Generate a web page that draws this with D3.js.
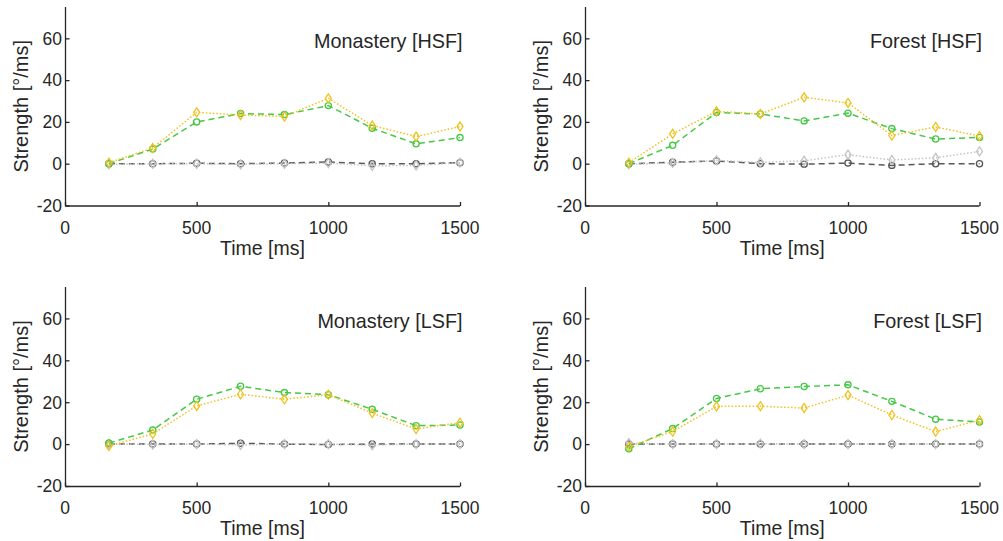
<!DOCTYPE html>
<html><head><meta charset="utf-8">
<script src="https://cdn.jsdelivr.net/npm/d3@7"></script>
<style>
body{margin:0;background:#fff;}
text{font-family:"Liberation Sans",Arial,Helvetica,sans-serif;fill:#262626;}
</style></head>
<body>
<svg id="c" width="1003" height="541"></svg>
<script>
const times = [166.7, 333.3, 500, 666.7, 833.3, 1000, 1166.7, 1333.3, 1500];
const xTicks = [0, 500, 1000, 1500];
const yTicks = [-20, 0, 20, 40, 60];
const titles = ["Monastery [HSF]", "Forest [HSF]", "Monastery [LSF]", "Forest [LSF]"];

const monHSF_green  = [0, 7, 20, 24, 23.5, 27.8, 17, 9.5, 12.5];
const monHSF_yellow = [0.5, 7.5, 24.6, 23.3, 22.6, 31.3, 18.3, 13, 17.8];
const monHSF_dark   = [0, 0, 0.2, 0, 0.3, 0.8, 0, 0, 0.5];
const monHSF_light  = [-0.3, 0, 0, -0.3, 0, 0.3, -1, -0.8, 0.5];

const forHSF_green  = [0, 8.8, 24.5, 23.8, 20.5, 24.2, 16.8, 11.8, 12.6];
const forHSF_yellow = [0.5, 14.3, 25.1, 23.8, 31.8, 29.1, 13.5, 17.6, 13.2];
const forHSF_dark   = [0, 0.7, 1.3, 0, -0.2, 0.3, -0.8, 0, 0];
const forHSF_light  = [-0.3, 0.4, 1.6, 0.6, 1.4, 4.3, 1.8, 2.8, 5.9];

const monLSF_green  = [0.5, 6.7, 21.4, 27.6, 24.6, 23.6, 16.6, 8.8, 9.1];
const monLSF_yellow = [-0.9, 4.9, 18.2, 23.8, 21.4, 23.6, 14.8, 7.2, 10.2];
const monLSF_dark   = [0, 0, 0, 0.4, 0, -0.2, 0, 0, 0];
const monLSF_light  = [0, -0.2, 0, -0.4, 0, 0, -0.5, 0, 0];

const forLSF_green  = [-2.2, 7.4, 21.8, 26.4, 27.5, 28.3, 20.4, 11.9, 10.6];
const forLSF_yellow = [-1.2, 6, 18, 18.1, 17.2, 23.4, 13.9, 6, 11.4];
const forLSF_dark   = [0, 0, 0, 0, 0, 0, 0, 0, 0];
const forLSF_light  = [0.5, 0, 0, 0.2, 0, 0, 0, 0, 0];

const panelData = [
  [monHSF_dark, monHSF_light, monHSF_green, monHSF_yellow],
  [forHSF_dark, forHSF_light, forHSF_green, forHSF_yellow],
  [monLSF_dark, monLSF_light, monLSF_green, monLSF_yellow],
  [forLSF_dark, forLSF_light, forLSF_green, forLSF_yellow]
];
const styles = [
  {color:"#585858", dash:"6,4", marker:"circle"},
  {color:"#c4c4c4", dash:"1.5,2", marker:"diamond"},
  {color:"#46c846", dash:"6,4", marker:"circle"},
  {color:"#f0c21e", dash:"1.5,2", marker:"diamond"}
];
const layout = [
  {x0:65, x1:460, y0:7, y1:205.5},
  {x0:585, x1:979.5, y0:7, y1:205.5},
  {x0:65, x1:460, y0:287, y1:486},
  {x0:585, x1:979.5, y0:287, y1:486}
];

const svg = d3.select("#c");
const axisColor = "#262626";

layout.forEach((L, pi) => {
  const x = d3.scaleLinear().domain([0, 1500]).range([L.x0, L.x1]);
  const y = d3.scaleLinear().domain([-20, 75]).range([L.y1, L.y0]);
  const g = svg.append("g");

  const ya = g.append("g").attr("transform", `translate(${L.x0},0)`)
    .call(d3.axisRight(y).tickValues(yTicks).tickSize(4).tickFormat(""));
  ya.select(".domain").attr("d", `M0.5,${L.y1}V${L.y0}`);
  ya.selectAll("line").attr("x1", 0.5).attr("x2", 4.5);
  ya.selectAll("path,line").attr("stroke", axisColor).attr("stroke-width", 1.3);
  yTicks.forEach(t => {
    g.append("text").attr("x", L.x0 - 3).attr("y", y(t) + 6.3)
      .attr("text-anchor", "end").attr("font-size", 17.5).text(t);
  });

  const xa = g.append("g").attr("transform", `translate(0,${L.y1})`)
    .call(d3.axisTop(x).tickValues(xTicks).tickSize(4).tickFormat(""));
  xa.select(".domain").attr("d", `M${L.x0},0.5H${L.x1}`);
  xa.selectAll("line").attr("y1", 0.5).attr("y2", -3.5);
  xa.selectAll("path,line").attr("stroke", axisColor).attr("stroke-width", 1.3);
  xTicks.forEach(t => {
    g.append("text").attr("x", x(t)).attr("y", L.y1 + 28)
      .attr("text-anchor", "middle").attr("font-size", 17.5).text(t);
  });

  g.append("text").attr("x", (L.x0 + L.x1) / 2).attr("y", L.y1 + 49)
    .attr("text-anchor", "middle").attr("font-size", 19.5).text("Time [ms]");
  const ly = (L.y0 + L.y1) / 2;
  const lx = L.x0 - 37;
  g.append("text").attr("transform", `translate(${lx},${ly}) rotate(-90)`)
    .attr("text-anchor", "middle").attr("font-size", 20).text("Strength [°/ms]");
  g.append("text").attr("x", L.x1 + 2.5).attr("y", L.y0 + 41)
    .attr("text-anchor", "end").attr("font-size", 19.8).text(titles[pi]);

  panelData[pi].forEach((vals, si) => {
    const st = styles[si];
    const pts = times.map((t, i) => [t, vals[i]]);
    const line = d3.line().x(d => x(d[0])).y(d => y(d[1]));
    g.append("path").attr("d", line(pts)).attr("fill", "none")
      .attr("stroke", st.color).attr("stroke-width", 1.5)
      .attr("stroke-dasharray", st.dash);
    const sym = d3.symbol().type(d3.symbolCircle).size(30);
    pts.forEach(d => {
      const cx = x(d[0]), cy = y(d[1]);
      if (st.marker === "circle") {
        g.append("path").attr("d", sym()).attr("transform", `translate(${cx},${cy})`)
          .attr("fill", "none").attr("stroke", st.color).attr("stroke-width", 1.3);
      } else {
        g.append("path").attr("d", `M${cx},${cy-4.5}L${cx+3},${cy}L${cx},${cy+4.5}L${cx-3},${cy}Z`)
          .attr("fill", "none").attr("stroke", st.color).attr("stroke-width", 1.3);
      }
    });
  });
});
</script>
</body></html>
